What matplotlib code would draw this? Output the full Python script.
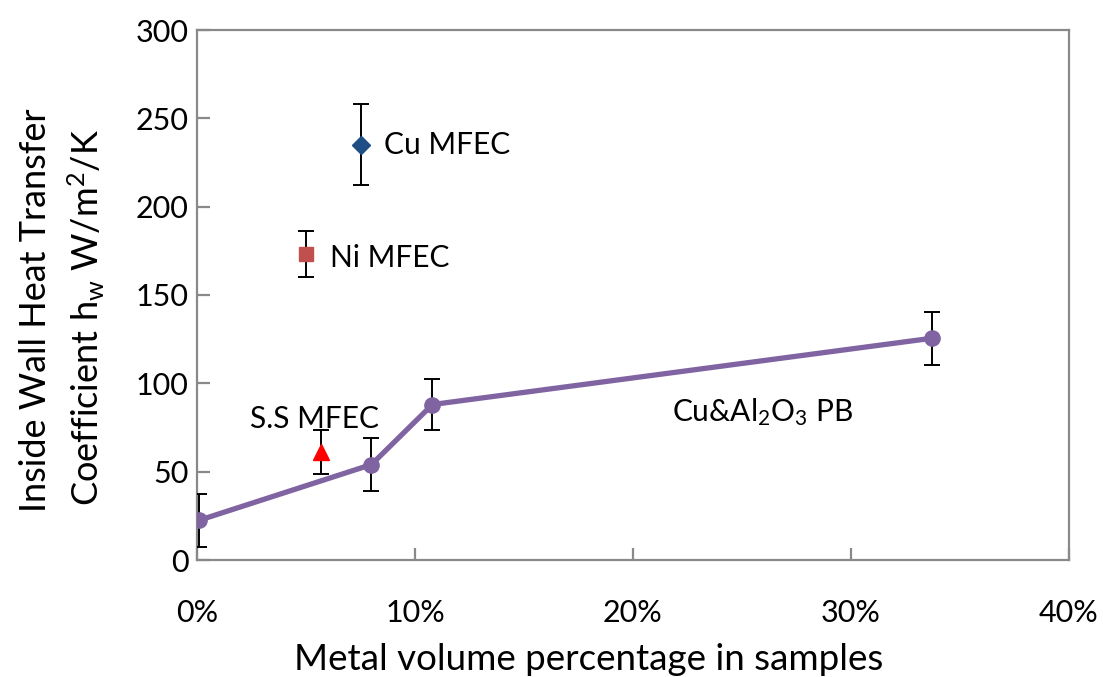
import matplotlib
matplotlib.use("Agg")
import matplotlib.pyplot as plt
from matplotlib.ticker import FuncFormatter

# Data
pb_x = [0.001, 0.080, 0.108, 0.337]
pb_y = [22.5, 54, 88, 125.5]
pb_err = [15, 15, 14.5, 15]

cu_x, cu_y, cu_err = [0.075], [235], [23]
ni_x, ni_y, ni_err = [0.050], [173], [13]
ss_x, ss_y, ss_err = [0.057], [61], [12.5]

x_ticks = [0.0, 0.1, 0.2, 0.3, 0.4]
y_ticks = [0, 50, 100, 150, 200, 250, 300]

plt.rcParams['font.family'] = ['Lato', 'DejaVu Sans']
plt.rcParams['mathtext.fontset'] = 'custom'
plt.rcParams['mathtext.rm'] = 'Lato'
plt.rcParams['mathtext.it'] = 'Lato'

fig = plt.figure(figsize=(11.03, 6.77), dpi=100)
ax = fig.add_axes([197/1103, 117/677, (1069-197)/1103, (560-30)/677])

gray = '#898989'
for s in ax.spines.values():
    s.set_color(gray)
    s.set_linewidth(1.6)

ax.errorbar(pb_x, pb_y, yerr=pb_err, color='#8064A2', lw=3.8, marker='o', ms=11,
            ecolor='black', elinewidth=1.4, capsize=6, capthick=1.4, zorder=3)
ax.errorbar(cu_x, cu_y, yerr=cu_err, color='#1F4E85', marker='D', ms=9, ls='none',
            ecolor='black', elinewidth=1.4, capsize=6, capthick=1.4, zorder=3)
ax.errorbar(ni_x, ni_y, yerr=ni_err, color='#C0504D', marker='s', ms=10, ls='none',
            ecolor='black', elinewidth=1.4, capsize=6, capthick=1.4, zorder=3)
ax.errorbar(ss_x, ss_y, yerr=ss_err, color='#FF0000', marker='^', ms=12, ls='none',
            ecolor='black', elinewidth=1.4, capsize=6, capthick=1.4, zorder=3)

fs = 21.5
ax.text(0.0858, 235, 'Cu MFEC', fontsize=fs, va='center', ha='left')
ax.text(0.0612, 171, 'Ni MFEC', fontsize=fs, va='center', ha='left')
ax.text(0.0243, 80, 'S.S MFEC', fontsize=fs, va='center', ha='left')
ax.text(0.218, 84, r'Cu&Al$_\mathregular{2}$O$_\mathregular{3}$ PB', fontsize=fs, va='center', ha='left')

ax.set_xlim(0, 0.4)
ax.set_ylim(0, 300)
ax.set_xticks(x_ticks)
ax.set_yticks(y_ticks)
ax.xaxis.set_major_formatter(FuncFormatter(lambda v, p: f'{v*100:.0f}%'))
ax.tick_params(axis='both', direction='in', length=9, width=1.6, color=gray, labelsize=22)
ax.tick_params(axis='x', pad=28)
ax.tick_params(axis='y', pad=6)

fig.text(589/1103, 1 - 660/677, 'Metal volume percentage in samples', fontsize=26.5,
         ha='center', va='center')
fig.text(36/1103, 1 - 310/677, 'Inside Wall Heat Transfer', rotation=90, fontsize=26,
         ha='center', va='center')
fig.text(86/1103, 1 - 317/677, r'Coefficient h$_\mathregular{w}$ W/m$^\mathregular{2}$/K',
         rotation=90, fontsize=26, ha='center', va='center')

fig.savefig('out.png', dpi=100)
